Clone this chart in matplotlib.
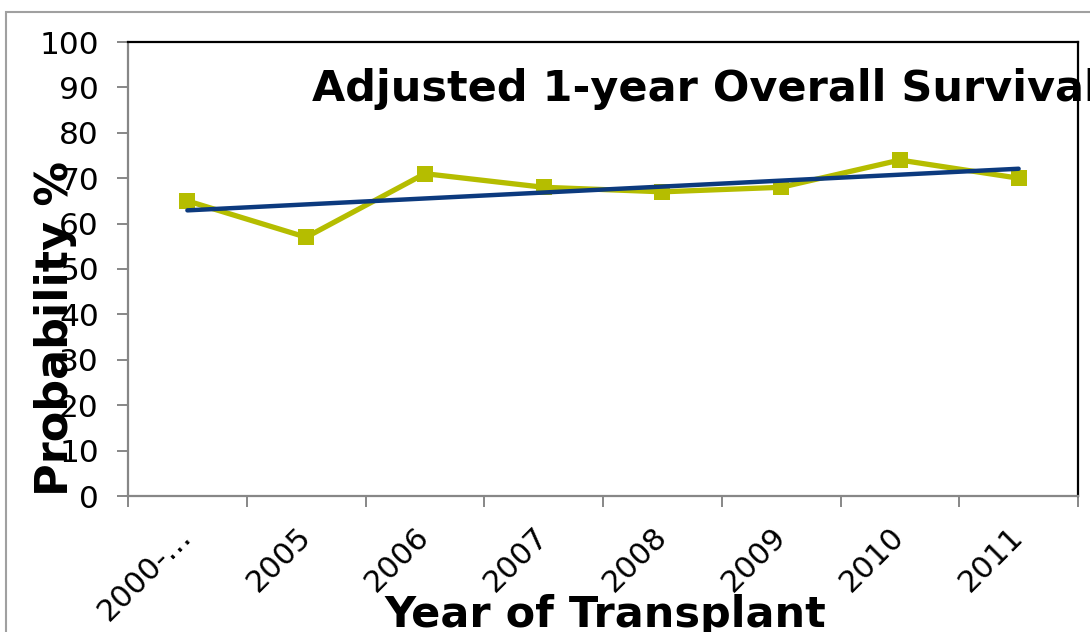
import numpy as np
import matplotlib
matplotlib.use("Agg")
import matplotlib.pyplot as plt
from matplotlib.patches import Rectangle

categories = ["2000-…", "2005", "2006", "2007", "2008", "2009", "2010", "2011"]
survival = [65, 57, 71, 68, 67, 68, 74, 70]
y_ticks = [0, 10, 20, 30, 40, 50, 60, 70, 80, 90, 100]

W, H = 1090, 632
fig = plt.figure(figsize=(W / 100, H / 100), dpi=100)
ax = fig.add_axes([128 / W, 1 - 496 / H, (1078 - 128) / W, (496 - 42) / H])

x = np.arange(len(categories))
line_col = "#b5bd00"
trend_col = "#0c3a7e"
ax.plot(x, survival, color=line_col, lw=3.8, marker="s", ms=12,
        markeredgewidth=0, zorder=3, solid_joinstyle="miter")
coef = np.polyfit(x, survival, 1)
ax.plot(x, np.polyval(coef, x), color=trend_col, lw=3.2,
        solid_capstyle="round", zorder=4)

ax.set_xlim(-0.5, len(categories) - 0.5)
ax.set_ylim(0, 100)
ax.set_yticks(y_ticks)
ax.set_yticklabels([str(v) for v in y_ticks])
ax.set_xticks(x)
ax.set_xticklabels(categories, rotation=45, ha="right", va="center",
                   rotation_mode="anchor")
ax.set_xticks(np.arange(len(categories) + 1) - 0.5, minor=True)

grey = "#878787"
for s in ("left", "bottom"):
    ax.spines[s].set_color(grey)
    ax.spines[s].set_linewidth(1.6)
for s in ("top", "right"):
    ax.spines[s].set_color("black")
    ax.spines[s].set_linewidth(1.6)

ax.tick_params(axis="y", direction="out", length=8, width=1.4, color=grey,
               labelsize=22.5, pad=13)
ax.tick_params(axis="x", which="major", length=0, labelsize=22, pad=26)
ax.tick_params(axis="x", which="minor", direction="out", length=8,
               width=1.4, color=grey)

fig.text(312 / W, 1 - 101 / H, "Adjusted 1-year Overall Survival",
         fontsize=31, fontweight="bold", ha="left", va="baseline")
fig.text(605 / W, 1 - 627 / H, "Year of Transplant", fontsize=31,
         fontweight="bold", ha="center", va="baseline")
fig.text(56 / W, 1 - 329 / H, "Probability %", fontsize=32,
         fontweight="bold", ha="center", va="center", rotation=90)

fig.patches.append(Rectangle((6 / W, -0.1), 1.5, (H - 12) / H + 0.1,
                             transform=fig.transFigure, fill=False,
                             edgecolor="#a0a0a0", lw=1.5, zorder=0))

fig.savefig("out.png", dpi=100)
